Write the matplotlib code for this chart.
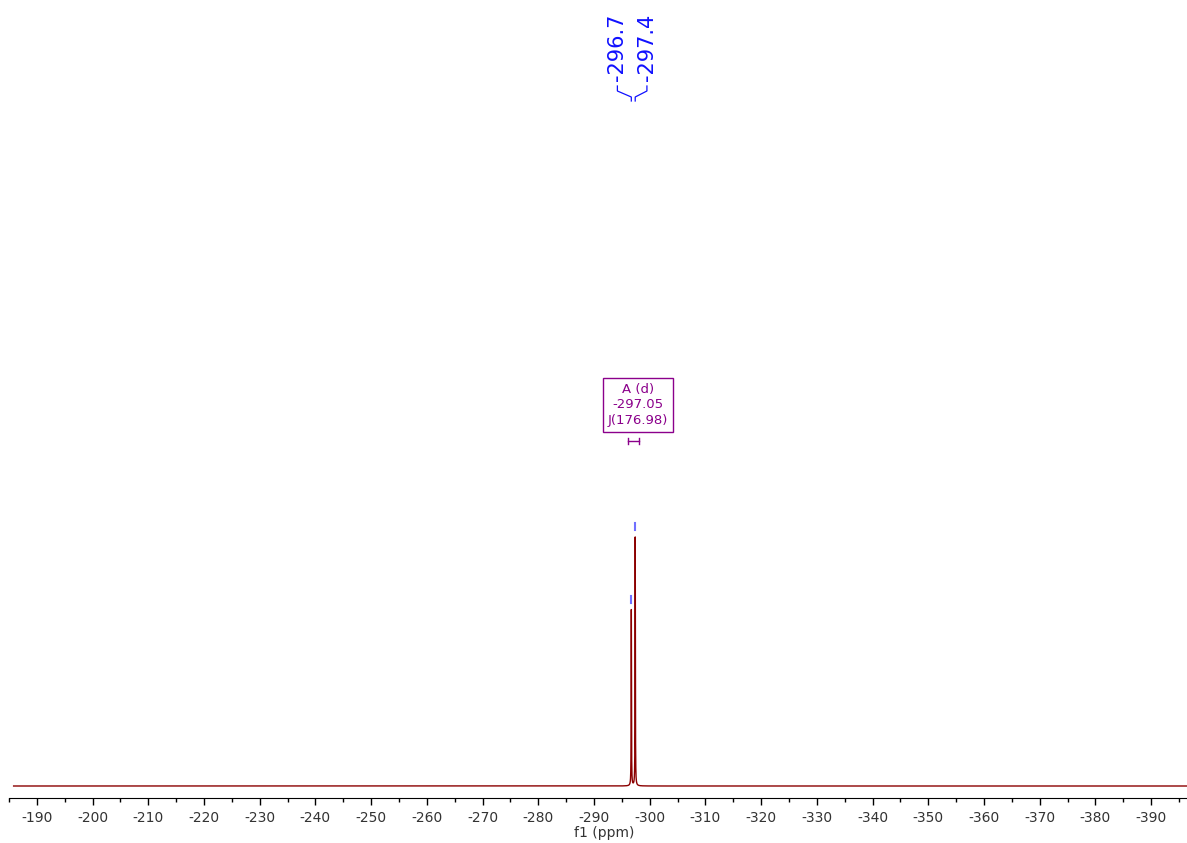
import numpy as np
import matplotlib.pyplot as plt
from matplotlib.transforms import blended_transform_factory

# 31P spectrum: doublet
peak_ppm = [-296.7, -297.4]
peak_height = [0.707, 1.0]
peak_labels = ['-296.7', '-297.4']
label_x = [-294.2, -299.5]   # label positions, fanned out above the peaks

mult_name = 'A (d)'
mult_shift = -297.05
mult_j = 176.98

xmin, xmax = -185.83, -396.44
major_ticks = np.arange(-190, -391, -10)
minor_ticks = np.arange(-185, -396, -5)

W, H = 1187, 843
fig = plt.figure(figsize=(W / 100, H / 100), dpi=100)
ax = fig.add_axes([9 / W, 45 / H, 1 - 9 / W, 1 - 45 / H])

# lorentzian lines on a fine grid
ppm = np.linspace(xmin, xmax, 60000)
hw = 0.03
spec = np.zeros_like(ppm)
for p, h in zip(peak_ppm, peak_height):
    spec += h * hw**2 / ((ppm - p)**2 + hw**2)
ax.plot(ppm, spec, color='#8b0000', lw=1.0)

ax.set_xlim(xmin, xmax)
ax.set_ylim(-12 / 249, 786 / 249)
ax.set_xticks(major_ticks)
ax.set_xticklabels([f'{t:d}' for t in major_ticks])
ax.set_xticks(minor_ticks, minor=True)
ax.tick_params(axis='x', which='major', length=5, width=1, direction='out', labelsize=10, pad=4, labelcolor='#333333')
ax.tick_params(axis='x', which='minor', length=3, width=1, direction='out')
for s in ['top', 'left', 'right']:
    ax.spines[s].set_visible(False)
ax.yaxis.set_visible(False)
ax.set_xlabel('f1 (ppm)', fontsize=10, labelpad=0, color='#333333')
ax.xaxis.set_label_coords(0.505, -0.035)

# y in pixels from top of axes
trans = blended_transform_factory(ax.transData, ax.transAxes)
def py(y):
    return (798 - y) / 798

blue = '#1010ff'
for p, h, lab, lx in zip(peak_ppm, peak_height, peak_labels, label_x):
    ax.text(lx, py(81), lab, rotation=90, ha='center', va='bottom',
            fontsize=15, color=blue, transform=trans)
    # connector from label down to peak
    ax.plot([lx, lx, p, p], [py(86), py(91), py(97), py(101)],
            color=blue, lw=0.9, transform=trans, clip_on=False)
    # peak pick marker
    top = 786 - h * 249
    ax.plot([p, p], [py(top - 14), py(top - 7)], color='#7070ff', lw=1.5, transform=trans)

# multiplet report
purple = '#8b008b'
ax.text(-297.95, py(405), f'{mult_name}\n{mult_shift:.2f}\nJ({mult_j:.2f})',
        ha='center', va='center', fontsize=9.5, color=purple, linespacing=1.25,
        transform=trans,
        bbox=dict(boxstyle='square,pad=0.35', fc='white', ec=purple, lw=1))
hx0, hx1 = mult_shift + 1.0, mult_shift - 1.0
ax.plot([hx0, hx1], [py(440.5), py(440.5)], color=purple, lw=1, transform=trans)
for xx in (hx0, hx1):
    ax.plot([xx, xx], [py(437.5), py(443.5)], color=purple, lw=1, transform=trans)

fig.savefig('out.png', dpi=100)
